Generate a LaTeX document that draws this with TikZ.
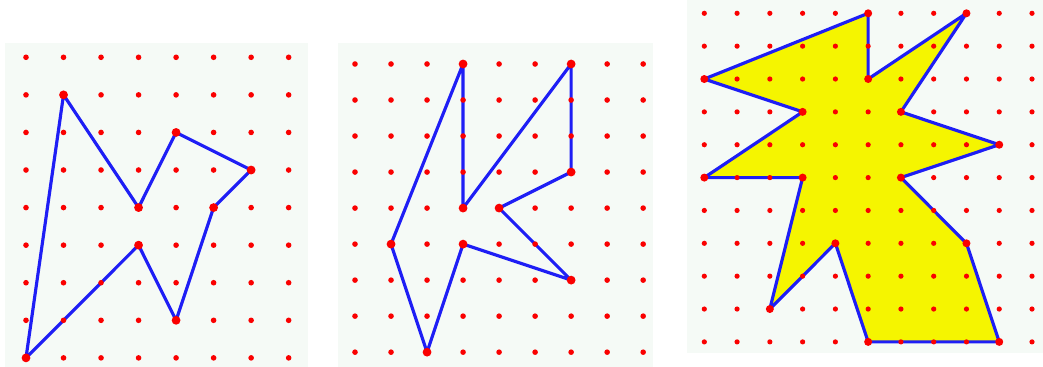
\documentclass[tikz,border=0pt]{standalone}
\usepackage{tikz}

\definecolor{paper}{RGB}{245,250,246}
\definecolor{pinred}{RGB}{250,0,0}
\definecolor{bandblue}{RGB}{30,30,245}
\definecolor{fillyellow}{RGB}{245,245,0}

\begin{document}
\begin{tikzpicture}[x=0.01cm, y=-0.01cm,
    gridpt/.style={fill=pinred},
    outline/.style={draw=bandblue, line width=0.9pt, line join=round}]

      \useasboundingbox (0,0) rectangle (1043,367);
      \fill[paper] (5,43) rectangle (308,367);
      \fill[paper] (338,43) rectangle (653,367);
      \fill[paper] (687,0) rectangle (1043,353);

      % first board
      \begin{scope}[shift={(26,57.3)}, x=0.375cm, y=-0.3755cm]
        \coordinate (A) at (1,1);
        \coordinate (B) at (3,4);
        \coordinate (C) at (4,2);
        \coordinate (D) at (6,3);
        \coordinate (E) at (5,4);
        \coordinate (F) at (4,7);
        \coordinate (G) at (3,5);
        \coordinate (H) at (0,8);
        \draw[outline] (A) -- (B) -- (C) -- (D) -- (E) -- (F) -- (G) -- (H) -- cycle;
        \foreach \i in {0,...,7} \foreach \j in {0,...,8}
          \fill[gridpt] (\i,\j) circle[radius=0.028cm];
        \foreach \p in {A,B,C,D,E,F,G,H}
          \fill[gridpt] (\p) circle[radius=0.044cm];
      \end{scope}

      % second board
      \begin{scope}[shift={(355,64)}, x=0.36cm, y=-0.36cm]
        \coordinate (K) at (3,0);
        \coordinate (L) at (3,4);
        \coordinate (M) at (6,0);
        \coordinate (N) at (6,3);
        \coordinate (P) at (4,4);
        \coordinate (Q) at (6,6);
        \coordinate (R) at (3,5);
        \coordinate (S) at (2,8);
        \coordinate (T) at (1,5);
        \draw[outline] (K) -- (L) -- (M) -- (N) -- (P) -- (Q) -- (R) -- (S) -- (T) -- cycle;
        \foreach \i in {0,...,8} \foreach \j in {0,...,8}
          \fill[gridpt] (\i,\j) circle[radius=0.028cm];
        \foreach \p in {K,L,M,N,P,Q,R,S,T}
          \fill[gridpt] (\p) circle[radius=0.044cm];
      \end{scope}

      % third board, shaded
      \begin{scope}[shift={(704.3,13.3)}, x=0.3275cm, y=-0.3284cm]
        \coordinate (U1) at (5,0);
        \coordinate (U2) at (5,2);
        \coordinate (U3) at (8,0);
        \coordinate (U4) at (6,3);
        \coordinate (U5) at (9,4);
        \coordinate (U6) at (6,5);
        \coordinate (U7) at (8,7);
        \coordinate (U8) at (9,10);
        \coordinate (U9) at (5,10);
        \coordinate (U10) at (4,7);
        \coordinate (U11) at (2,9);
        \coordinate (U12) at (3,5);
        \coordinate (U13) at (0,5);
        \coordinate (U14) at (3,3);
        \coordinate (U15) at (0,2);
        \draw[outline, fill=fillyellow] (U1) -- (U2) -- (U3) -- (U4) -- (U5) -- (U6) -- (U7) -- (U8)
          -- (U9) -- (U10) -- (U11) -- (U12) -- (U13) -- (U14) -- (U15) -- cycle;
        \foreach \i in {0,...,10} \foreach \j in {0,...,10}
          \fill[gridpt] (\i,\j) circle[radius=0.026cm];
        \foreach \p in {U1,U2,U3,U4,U5,U6,U7,U8,U9,U10,U11,U12,U13,U14,U15}
          \fill[gridpt] (\p) circle[radius=0.04cm];
      \end{scope}

\end{tikzpicture}
\end{document}
